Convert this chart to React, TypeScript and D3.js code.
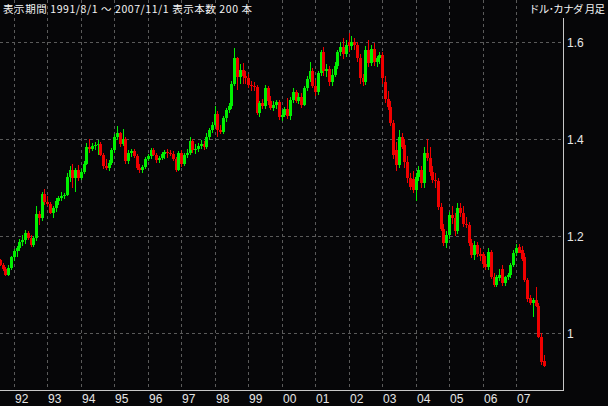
import React from "react";
import * as d3 from "d3";

// USD/CAD monthly, 1991/8 .. 2007/11
const startYear = 1991;
const startMonth = 8;

const open = [
  1.151, 1.141, 1.132, 1.121, 1.134,
  1.157, 1.170, 1.176, 1.189, 1.192, 1.206, 1.197, 1.183, 1.196, 1.247, 1.238, 1.287,
  1.270, 1.266, 1.249, 1.259, 1.272, 1.278, 1.283, 1.286, 1.322, 1.336, 1.320, 1.336,
  1.321, 1.333, 1.350, 1.385, 1.381, 1.386, 1.388, 1.390, 1.368, 1.345, 1.341, 1.352,
  1.377, 1.404, 1.412, 1.390, 1.401, 1.355, 1.371, 1.375, 1.366, 1.341, 1.336, 1.342,
  1.360, 1.366, 1.378, 1.368, 1.357, 1.362, 1.370, 1.374, 1.372, 1.369, 1.359, 1.337,
  1.371, 1.349, 1.368, 1.372, 1.396, 1.377, 1.381, 1.386, 1.391, 1.385, 1.405, 1.419,
  1.430, 1.453, 1.419, 1.415, 1.443, 1.460, 1.469, 1.515, 1.567, 1.529, 1.543, 1.531,
  1.526, 1.512, 1.509, 1.507, 1.455, 1.474, 1.468, 1.505, 1.478, 1.465, 1.471, 1.476,
  1.445, 1.450, 1.462, 1.448, 1.481, 1.498, 1.480, 1.488, 1.471, 1.505, 1.524, 1.540,
  1.510, 1.497, 1.536, 1.579, 1.540, 1.545, 1.518, 1.533, 1.552, 1.580, 1.590, 1.576,
  1.600, 1.592, 1.600, 1.594, 1.567, 1.526, 1.518, 1.584, 1.557, 1.587, 1.560, 1.567,
  1.574, 1.519, 1.484, 1.467, 1.433, 1.378, 1.347, 1.405, 1.388, 1.354, 1.320, 1.318,
  1.295, 1.323, 1.336, 1.309, 1.371, 1.361, 1.333, 1.316, 1.313, 1.261, 1.216, 1.187,
  1.202, 1.243, 1.238, 1.210, 1.258, 1.248, 1.225, 1.223, 1.186, 1.161, 1.182, 1.163,
  1.163, 1.143, 1.136, 1.168, 1.117, 1.100, 1.113, 1.132, 1.103, 1.116, 1.121, 1.141,
  1.166, 1.178, 1.172, 1.158, 1.110, 1.072, 1.062, 1.068, 1.057, 0.993, 0.943,
];

const high = [
  1.154, 1.145, 1.136, 1.141, 1.160,
  1.174, 1.180, 1.194, 1.202, 1.212, 1.210, 1.203, 1.200, 1.262, 1.252, 1.292, 1.298,
  1.283, 1.270, 1.263, 1.280, 1.283, 1.292, 1.290, 1.330, 1.345, 1.350, 1.340, 1.347,
  1.338, 1.356, 1.393, 1.400, 1.392, 1.394, 1.399, 1.395, 1.372, 1.360, 1.358, 1.383,
  1.410, 1.427, 1.416, 1.422, 1.405, 1.377, 1.380, 1.380, 1.370, 1.350, 1.346, 1.364,
  1.370, 1.382, 1.382, 1.372, 1.366, 1.374, 1.377, 1.380, 1.378, 1.375, 1.364, 1.375,
  1.378, 1.372, 1.380, 1.405, 1.400, 1.390, 1.392, 1.398, 1.396, 1.412, 1.424, 1.436,
  1.468, 1.458, 1.430, 1.448, 1.464, 1.474, 1.520, 1.588, 1.570, 1.555, 1.557, 1.540,
  1.535, 1.520, 1.518, 1.512, 1.480, 1.484, 1.512, 1.510, 1.490, 1.478, 1.482, 1.482,
  1.460, 1.466, 1.485, 1.488, 1.505, 1.502, 1.495, 1.495, 1.510, 1.530, 1.560, 1.548,
  1.522, 1.540, 1.585, 1.590, 1.555, 1.552, 1.545, 1.560, 1.585, 1.600, 1.608, 1.605,
  1.620, 1.612, 1.608, 1.600, 1.575, 1.535, 1.592, 1.605, 1.595, 1.598, 1.572, 1.580,
  1.580, 1.530, 1.500, 1.480, 1.440, 1.395, 1.419, 1.412, 1.400, 1.365, 1.330, 1.335,
  1.330, 1.345, 1.345, 1.385, 1.400, 1.385, 1.345, 1.330, 1.320, 1.268, 1.225, 1.210,
  1.250, 1.262, 1.248, 1.268, 1.268, 1.262, 1.240, 1.230, 1.195, 1.190, 1.188, 1.175,
  1.168, 1.160, 1.175, 1.172, 1.125, 1.120, 1.132, 1.140, 1.118, 1.125, 1.145, 1.172,
  1.185, 1.185, 1.180, 1.165, 1.115, 1.080, 1.073, 1.095, 1.062, 1.000, 0.955,
];

const low = [
  1.138, 1.128, 1.118, 1.118, 1.130,
  1.150, 1.158, 1.170, 1.180, 1.185, 1.192, 1.178, 1.178, 1.190, 1.224, 1.232, 1.265,
  1.262, 1.245, 1.238, 1.250, 1.265, 1.272, 1.276, 1.283, 1.312, 1.300, 1.292, 1.315,
  1.316, 1.328, 1.347, 1.371, 1.375, 1.378, 1.367, 1.365, 1.338, 1.336, 1.335, 1.348,
  1.372, 1.398, 1.385, 1.386, 1.350, 1.350, 1.364, 1.362, 1.336, 1.330, 1.331, 1.338,
  1.355, 1.360, 1.365, 1.352, 1.352, 1.358, 1.360, 1.362, 1.365, 1.355, 1.333, 1.335,
  1.343, 1.345, 1.362, 1.368, 1.372, 1.370, 1.374, 1.380, 1.378, 1.380, 1.398, 1.412,
  1.425, 1.405, 1.410, 1.410, 1.436, 1.455, 1.462, 1.510, 1.502, 1.515, 1.515, 1.515,
  1.505, 1.500, 1.500, 1.450, 1.445, 1.462, 1.463, 1.470, 1.460, 1.458, 1.462, 1.440,
  1.438, 1.445, 1.442, 1.440, 1.475, 1.475, 1.472, 1.465, 1.468, 1.500, 1.518, 1.505,
  1.490, 1.492, 1.530, 1.530, 1.528, 1.510, 1.510, 1.528, 1.545, 1.572, 1.565, 1.570,
  1.580, 1.585, 1.585, 1.560, 1.515, 1.510, 1.512, 1.550, 1.552, 1.552, 1.550, 1.555,
  1.515, 1.475, 1.460, 1.428, 1.360, 1.334, 1.340, 1.380, 1.340, 1.310, 1.295, 1.290,
  1.272, 1.315, 1.300, 1.300, 1.355, 1.325, 1.310, 1.300, 1.255, 1.210, 1.180, 1.175,
  1.195, 1.225, 1.200, 1.205, 1.240, 1.220, 1.218, 1.180, 1.155, 1.152, 1.158, 1.150,
  1.135, 1.130, 1.130, 1.112, 1.095, 1.095, 1.108, 1.098, 1.098, 1.110, 1.115, 1.136,
  1.160, 1.165, 1.150, 1.105, 1.065, 1.058, 1.034, 1.055, 0.990, 0.935, 0.930,
];

const close = [
  1.141, 1.132, 1.121, 1.134, 1.157,
  1.170, 1.176, 1.189, 1.192, 1.206, 1.197, 1.183, 1.196, 1.247, 1.238, 1.287, 1.270,
  1.266, 1.249, 1.259, 1.272, 1.278, 1.283, 1.286, 1.322, 1.336, 1.320, 1.336, 1.321,
  1.333, 1.350, 1.385, 1.381, 1.386, 1.388, 1.390, 1.368, 1.345, 1.341, 1.352, 1.377,
  1.404, 1.412, 1.390, 1.401, 1.355, 1.371, 1.375, 1.366, 1.341, 1.336, 1.342, 1.360,
  1.366, 1.378, 1.368, 1.357, 1.362, 1.370, 1.374, 1.372, 1.369, 1.359, 1.337, 1.371,
  1.349, 1.368, 1.372, 1.396, 1.377, 1.381, 1.386, 1.391, 1.385, 1.405, 1.419, 1.430,
  1.453, 1.419, 1.415, 1.443, 1.460, 1.469, 1.515, 1.567, 1.529, 1.543, 1.531, 1.526,
  1.512, 1.509, 1.507, 1.455, 1.474, 1.468, 1.505, 1.478, 1.465, 1.471, 1.476, 1.445,
  1.450, 1.462, 1.448, 1.481, 1.498, 1.480, 1.488, 1.471, 1.505, 1.524, 1.540, 1.510,
  1.497, 1.536, 1.579, 1.540, 1.545, 1.518, 1.533, 1.552, 1.580, 1.590, 1.576, 1.594,
  1.592, 1.600, 1.594, 1.567, 1.526, 1.518, 1.584, 1.557, 1.587, 1.560, 1.567, 1.574,
  1.526, 1.484, 1.467, 1.433, 1.368, 1.347, 1.405, 1.385, 1.354, 1.320, 1.302, 1.295,
  1.323, 1.336, 1.309, 1.371, 1.361, 1.333, 1.316, 1.313, 1.261, 1.216, 1.187, 1.202,
  1.243, 1.238, 1.210, 1.258, 1.248, 1.225, 1.223, 1.186, 1.161, 1.182, 1.163, 1.160,
  1.143, 1.136, 1.168, 1.117, 1.100, 1.117, 1.120, 1.103, 1.116, 1.121, 1.141, 1.166,
  1.175, 1.166, 1.153, 1.110, 1.070, 1.062, 1.068, 1.057, 0.993, 0.941, 0.933,
];

const yearLabels = ["92", "93", "94", "95", "96", "97", "98", "99", "00", "01", "02", "03", "04", "05", "06", "07"];
const yTicks = [1.0, 1.2, 1.4, 1.6];
const yTickLabels = ["1", "1.2", "1.4", "1.6"];
const titleLeft = "表示期間 1991/8/1 ～ 2007/11/1  表示本数 200 本";
const titleRight = "ドル･カナダ 月足";

const W = 608;
const H = 406;
const plotRight = 563;
const axisY = 390;
const UP = "#00f000";
const DOWN = "#f00000";
const GRID = "#5a5a5a";
const AXIS = "#c8c8c8";
const TEXT = "#e6e6e6";

export default function App() {
  const n = close.length;
  const x = d3.scaleLinear().domain([0, n - 1]).range([0.35, 0.35 + (n - 1) * 2.79]);
  const y = d3.scaleLinear().domain([1.0, 1.6]).range([333.3, 42.3]);

  const firstJan = 12 - startMonth + 1;
  const yearIdx = yearLabels.map((_, k) => firstJan + 12 * k);

  return (
    <svg
      width={W}
      height={H}
      style={{ position: "absolute", left: 0, top: 0, display: "block" }}
    >
      <rect x={0} y={0} width={W} height={H} fill="#060608" />
      <g shapeRendering="crispEdges">
        {yearIdx.map((i, k) => {
          const gx = Math.floor(x(i)) + 0.5;
          return (
            <line key={"vg" + k} x1={gx} x2={gx} y1={0} y2={axisY} stroke={GRID} strokeDasharray="3,3" />
          );
        })}
        {yTicks.map((v, k) => {
          const gy = Math.floor(y(v)) + 0.5;
          return (
            <line key={"hg" + k} x1={0} x2={plotRight} y1={gy} y2={gy} stroke={GRID} strokeDasharray="3,3" />
          );
        })}
      </g>
      <g shapeRendering="crispEdges">
        {close.map((c, i) => {
          const o = open[i];
          const up = c >= o;
          const col = up ? UP : DOWN;
          const cx = Math.floor(x(i));
          const top = Math.round(y(Math.max(o, c)));
          const bot = Math.round(y(Math.min(o, c)));
          return (
            <g key={"c" + i}>
              <line x1={cx + 0.5} x2={cx + 0.5} y1={y(high[i])} y2={y(low[i])} stroke={col} strokeWidth={1} />
              <rect x={cx - 1} y={top} width={3} height={Math.max(1, bot - top)} fill={col} />
            </g>
          );
        })}
      </g>
      <g shapeRendering="crispEdges">
        <line x1={0} x2={plotRight + 0.5} y1={axisY + 0.5} y2={axisY + 0.5} stroke={AXIS} />
        <line x1={plotRight + 0.5} x2={plotRight + 0.5} y1={18} y2={axisY + 0.5} stroke={AXIS} />
      </g>
      {yearIdx.map((i, k) => (
        <text
          key={"xl" + k}
          x={Math.floor(x(i)) + 1}
          y={403}
          fontFamily="'Liberation Sans', Arial, sans-serif"
          fontSize={12}
          fill={TEXT}
        >
          {yearLabels[k]}
        </text>
      ))}
      {yTicks.map((v, k) => (
        <text
          key={"yl" + k}
          x={567}
          y={Math.floor(y(v)) + 5}
          fontFamily="'Liberation Sans', Arial, sans-serif"
          fontSize={12}
          fill={TEXT}
        >
          {yTickLabels[k]}
        </text>
      ))}
      <text
        x={3}
        y={12.5}
        fontFamily="'Noto Sans CJK JP', sans-serif"
        fontSize={10.5}
        fill="#f4f4f4"
        textLength={249}
        lengthAdjust="spacing"
      >
        {titleLeft}
      </text>
      <text
        x={529}
        y={12.5}
        fontFamily="'Noto Sans CJK JP', sans-serif"
        fontSize={10.5}
        fill="#f4f4f4"
        textLength={76}
        lengthAdjust="spacing"
      >
        {titleRight}
      </text>
    </svg>
  );
}
